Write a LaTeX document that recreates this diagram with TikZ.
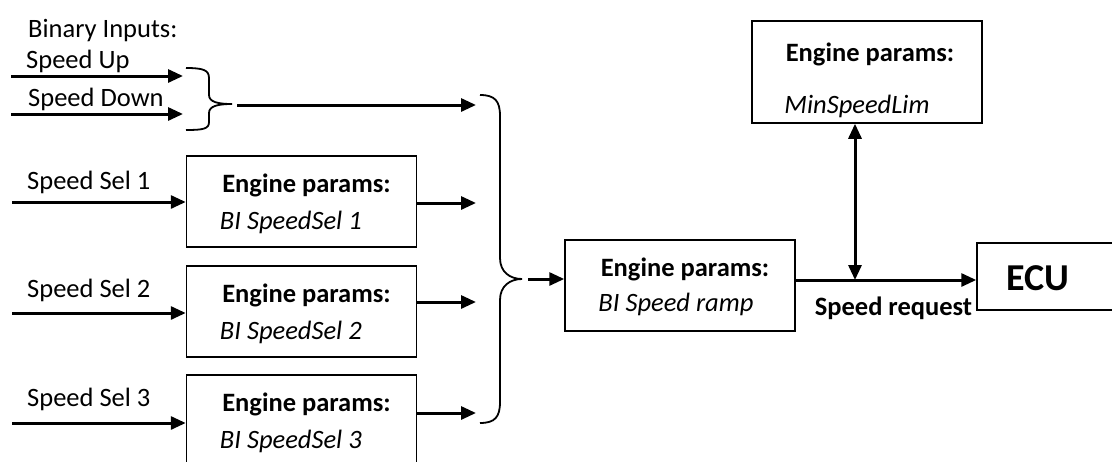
\documentclass[tikz,border=0pt]{standalone}
\usepackage{fontspec}
\setmainfont{Carlito}
\usepackage{tikz}
\usetikzlibrary{arrows.meta, calc}

\tikzset{
  pbox/.style={draw, line width=1.5pt, minimum width=230pt, minimum height=91pt, inner sep=0pt},
  arr/.style={line width=3pt, -{Triangle[length=15pt,width=13pt]}},
  brc/.style={line width=1.8pt},
  lbl/.style={anchor=west, inner sep=0pt, font=\fontsize{26.5}{30}\selectfont},
  hd/.style={inner sep=0pt, font=\fontsize{26.5}{30}\selectfont\bfseries},
  prm/.style={anchor=west, inner sep=0pt, font=\fontsize{26.5}{30}\selectfont\itshape}
}

\begin{document}
\begin{tikzpicture}[x=1pt, y=-1pt]
  \clip (0,0) rectangle (1112,461);

  % Binary inputs
  \node[lbl] (bin) at (28,31) {Binary Inputs:};
  \node[lbl] (up) at (26,61) {Speed Up};
  \node[lbl] (down) at (28,99) {Speed Down};
  \coordinate (upS) at (11,76);
  \coordinate (upE) at (183,76);
  \coordinate (dnS) at (11,114);
  \coordinate (dnE) at (183,114);
  \draw[arr] (upS) -- (upE);
  \draw[arr] (dnS) -- (dnE);

  % Small brace
  \coordinate (sb) at (232,104);
  \draw[brc] (186,68) .. controls (203,68) and (209,70) .. (209,78) -- (209,95)
    .. controls (209,102) and (218,104) .. (sb)
    .. controls (218,104) and (209,106) .. (209,113) -- (209,122)
    .. controls (209,129) and (203,130) .. (186,130);
  \coordinate (bi) at (237,105);
  \coordinate (biE) at (476,105);
  \draw[arr] (bi) -- (biE);

  % Speed select boxes
  \node[pbox] (sel1) at (301.5,201.5) {};
  \node[pbox] (sel2) at (301.5,311.5) {};
  \node[pbox] (sel3) at (301.5,420.5) {};
  \foreach \i in {1,2,3} {
    \node[hd] (h\i) at ($(sel\i.north)+(5,30)$) {Engine params:};
    \node[prm] (p\i) at ($(sel\i.north west)+(34,67)$) {BI SpeedSel \i};
  }

  % Speed select inputs
  \node[lbl] (ss1) at (27,182) {Speed Sel 1};
  \node[lbl] (ss2) at (27,290) {Speed Sel 2};
  \node[lbl] (ss3) at (27,399) {Speed Sel 3};
  \coordinate (in1) at (12,202);
  \coordinate (in2) at (12,313);
  \coordinate (in3) at (12,423);
  \coordinate (out1) at (476,203);
  \coordinate (out2) at (476,302);
  \coordinate (out3) at (476,413);
  \foreach \i in {1,2,3} {
    \draw[arr] (in\i) -- (in\i -| sel\i.west);
    \draw[arr] (sel\i.east |- out\i) -- (out\i);
  }

  % Big brace
  \coordinate (bb) at (522,279);
  \draw[brc] (480,95) .. controls (495,95) and (500,101) .. (500,116) -- (500,258)
    .. controls (500,272) and (510,279) .. (bb)
    .. controls (510,279) and (500,286) .. (500,300) -- (500,402)
    .. controls (500,417) and (495,423) .. (480,423);

  % Speed ramp
  \node[pbox] (ramp) at (680,285.5) {};
  \node[hd] (hr) at ($(ramp.north)+(5,30)$) {Engine params:};
  \node[prm] (pr) at ($(ramp.north west)+(34,65)$) {BI Speed ramp};
  \coordinate (rin) at (528,279);
  \draw[arr] (rin) -- (rin -| ramp.west);

  % Min speed limit
  \node[pbox, minimum height=102pt] (lim) at (867,72) {};
  \node[hd] (hl) at ($(lim.north)+(3,34)$) {Engine params:};
  \node[prm] (pl) at ($(lim.north west)+(33,86)$) {MinSpeedLim};

  % ECU
  \node[pbox, minimum width=153pt, minimum height=67pt] (ecu) at (1053.5,276.5) {};
  \node[inner sep=0pt, font=\fontsize{38}{42}\selectfont\bfseries] (ecut) at (1037.5,278) {ECU};

  % Speed request
  \coordinate (req) at (855,280);
  \draw[arr] (ramp.east |- req) -- (req -| ecu.west);
  \draw[arr, {Triangle[length=15pt,width=13pt]}-{Triangle[length=15pt,width=13pt]}] (req |- lim.south) -- (req);
  \node[hd] (sr) at (893.5,308) {Speed request};
\end{tikzpicture}
\end{document}
